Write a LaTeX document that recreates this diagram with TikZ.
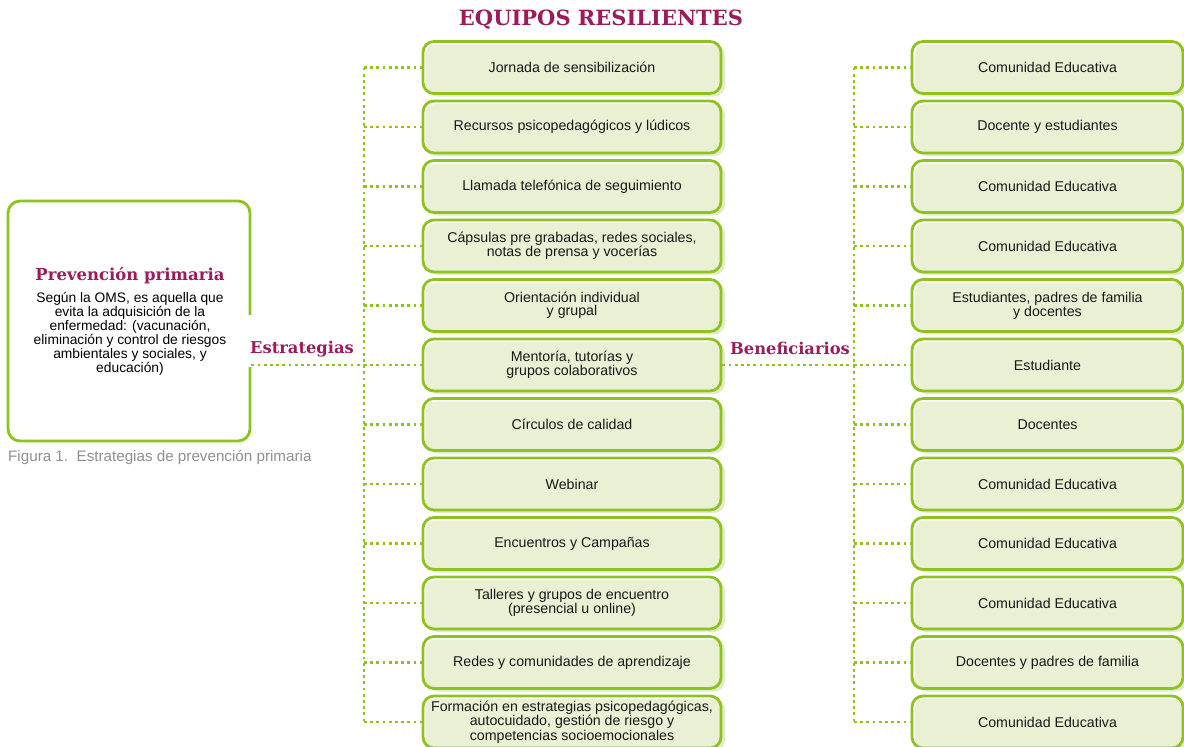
\documentclass[tikz,border=0pt]{standalone}
\usepackage{fontspec}
\setmainfont{Liberation Sans}
\newfontfamily\losa{DejaVu Serif}
\usepackage{xcolor}
\usepackage{tikz}
\usetikzlibrary{shadows}

\definecolor{verde}{HTML}{8DC21F}
\definecolor{relleno}{HTML}{E9F0D3}
\definecolor{sombra}{HTML}{E3ECC8}
\definecolor{vino}{HTML}{9C1C5B}
\definecolor{gris}{HTML}{8F8F8F}

\tikzset{
  caja/.style={draw=verde, line width=2.8pt, rounded corners=11pt, fill=relleno,
    minimum height=52pt, align=center, text=black!90,
    font=\fontsize{14.2}{13}\selectfont,
    general shadow={fill=sombra, draw=none, shadow xshift=4pt, shadow yshift=-3pt},
    path picture={
      \fill[white] (path picture bounding box.south west) rectangle (path picture bounding box.north east);
      \fill[relleno, rounded corners=9pt] ([shift={(3pt,-3pt)}]path picture bounding box.north west)
        rectangle ([shift={(6pt,-6pt)}]path picture bounding box.south east);}},
  estrategia/.style={caja, minimum width=298pt},
  beneficio/.style={caja, minimum width=271pt},
  punteado/.style={verde, line width=2.8pt, dash pattern=on 2.8pt off 3.4pt},
  rotulo/.style={font=\losa\bfseries\fontsize{16.3}{16}\selectfont, text=vino},
}

\begin{document}
\begin{tikzpicture}[x=1pt,y=-1pt]
  \useasboundingbox (0,0) rectangle (1184,747);
  % titulo
  \node[rotulo, font=\losa\bfseries\fontsize{21}{21}\selectfont] (titulo) at (601,20) {EQUIPOS RESILIENTES};

  % cuadro de prevencion primaria
  \node[draw=verde, line width=2.8pt, rounded corners=12pt, minimum width=242pt, minimum height=240pt] (prev) at (129,321) {};
  \node[rotulo, font=\losa\bfseries\fontsize{16.5}{16}\selectfont] (tprev) at (130,276) {Prevención primaria};
  \node[align=center, font=\fontsize{13.8}{12.4}\selectfont] (dprev) at (130,334)
    {Según la OMS, es aquella que\\evita la adquisición de la\\enfermedad: (vacunación,\\eliminación y control de riesgos\\ambientales y sociales, y\\educación)};
  \node[anchor=west, text=gris, font=\fontsize{15.2}{16}\selectfont, inner sep=0pt] (pie) at (8,457) {Figura 1.\ \ Estrategias de prevención primaria};

  % estrategias
  \foreach \texto [count=\i] in {Jornada de sensibilización, Recursos psicopedagógicos y lúdicos,
      Llamada telefónica de seguimiento, {Cápsulas pre grabadas, redes sociales,\\notas de prensa y vocerías},
      {Orientación individual\\y grupal}, {Mentoría, tutorías y\\grupos colaborativos},
      Círculos de calidad, Webinar, Encuentros y Campañas,
      {Talleres y grupos de encuentro\\(presencial u online)}, Redes y comunidades de aprendizaje,
      {Formación en estrategias psicopedagógicas,\\autocuidado, gestión de riesgo y\\competencias socioemocionales}}
    \node[estrategia] (e\i) at (572,{8+59.5*\i}) {\texto};

  % beneficiarios
  \foreach \texto [count=\i] in {Comunidad Educativa, Docente y estudiantes, Comunidad Educativa,
      Comunidad Educativa, {Estudiantes, padres de familia\\y docentes}, Estudiante, Docentes,
      Comunidad Educativa, Comunidad Educativa, Comunidad Educativa,
      Docentes y padres de familia, Comunidad Educativa}
    \node[beneficio] (b\i) at (1047.5,{8+59.5*\i}) {\texto};

  % conectores punteados
  \coordinate (troncoE) at (364,0);
  \coordinate (troncoB) at (854,0);
  \draw[punteado] (troncoE |- e1.west) -- (troncoE |- e12.west);
  \draw[punteado] (troncoB |- b1.west) -- (troncoB |- b12.west);
  \foreach \i in {1,...,12}{
    \draw[punteado] (troncoE |- e\i.west) -- (e\i.west);
    \draw[punteado] (troncoB |- b\i.west) -- (b\i.west);
  }
  \fill[white] (246,315) rectangle (254,367);
  \draw[punteado] (prev.east |- e6.west) -- (troncoE |- e6.west);
  \draw[punteado] (e6.east) -- (troncoB |- b6.west);
  \node[rotulo] (lestr) at (302,349) {Estrategias};
  \node[rotulo] (lbenef) at (790,348) {Beneficiarios};
\end{tikzpicture}
\end{document}
